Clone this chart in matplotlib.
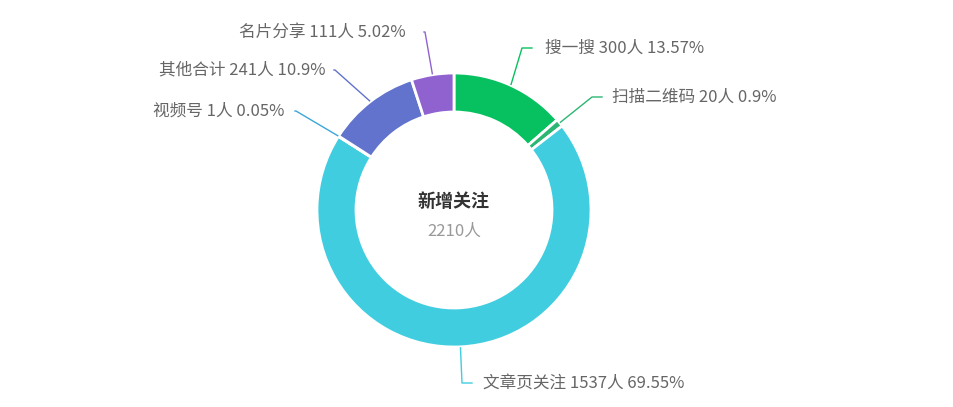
import matplotlib
matplotlib.use("Agg")
import matplotlib.pyplot as plt
import numpy as np

plt.rcParams['font.family'] = ['Noto Sans CJK SC', 'DejaVu Sans']

names = ['搜一搜', '扫描二维码', '文章页关注', '视频号', '其他合计', '名片分享']
values = [300, 20, 1537, 1, 241, 111]
pcts = ['13.57%', '0.9%', '69.55%', '0.05%', '10.9%', '5.02%']
colors = ['#07c160', '#2bb673', '#40cde0', '#3aa7d8', '#6173cc', '#9062d0']
total = 2210

W, H = 954, 407
fig = plt.figure(figsize=(W/100, H/100), dpi=100)
ax = fig.add_axes([0, 0, 1, 1])
ax.set_xlim(0, W); ax.set_ylim(0, H); ax.set_aspect('equal'); ax.axis('off')

cx, cy, R, w = 454, 407-210, 137, 39
wedges, _ = ax.pie(values, colors=colors, startangle=90, counterclock=False,
                   center=(cx, cy), radius=R, frame=True,
                   wedgeprops=dict(width=w, edgecolor='white', linewidth=2))
ax.set_xlim(0, W); ax.set_ylim(0, H); ax.axis('off')

# label layout: (elbow x, elbow y in pixel coords from top, text x, ha)
layout = [(522, 48, 545, 'left'), (592, 97, 612, 'left'), (462, 383, 483, 'left'),
          (296, 111, 284, 'right'), (335, 70, 326, 'right'), (425, 32, 406, 'right')]
for wd, n, v, p, c, (ex, ey, tx, ha) in zip(wedges, names, values, pcts, colors, layout):
    a = np.deg2rad((wd.theta1 + wd.theta2) / 2)
    px, py = cx + (R+1)*np.cos(a), cy + (R+1)*np.sin(a)
    ey2 = H - ey
    hx = ex + (10 if ha == 'left' else -1)
    ax.plot([px, ex, hx], [py, ey2, ey2], color=c, lw=1)
    ax.text(tx, ey2, f'{n} {v}人 {p}', ha=ha, va='center', fontsize=12, color='#666666')

ax.text(cx, cy+8, '新增关注', ha='center', va='center', fontsize=13, fontweight='bold', color='#333333')
ax.text(cx, cy-21, f'{total}人', ha='center', va='center', fontsize=12, color='#999999')

fig.savefig('out.png', dpi=100)
